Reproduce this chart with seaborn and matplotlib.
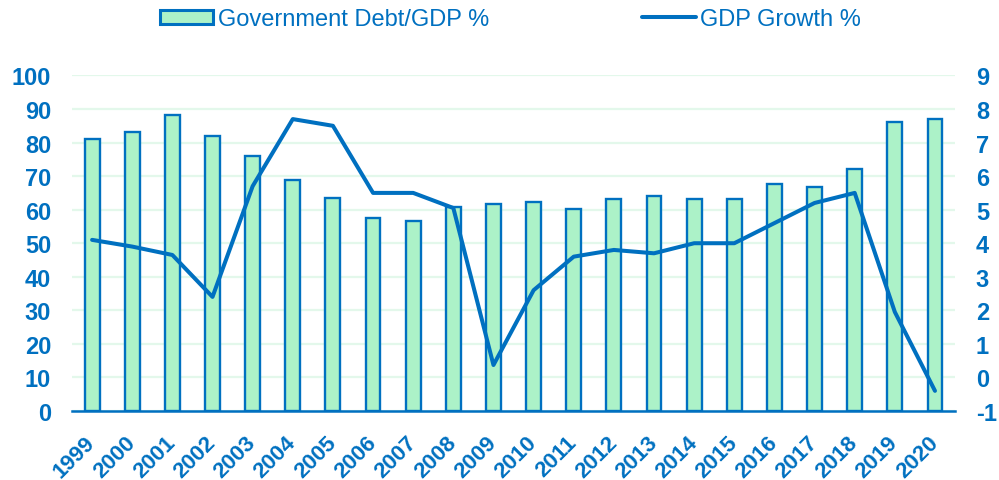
import numpy as np
import pandas as pd
import matplotlib
matplotlib.use("Agg")
import matplotlib.pyplot as plt
from matplotlib.patches import Patch
from matplotlib.lines import Line2D
import seaborn as sns

years = ["1999", "2000", "2001", "2002", "2003", "2004", "2005", "2006", "2007", "2008", "2009",
         "2010", "2011", "2012", "2013", "2014", "2015", "2016", "2017", "2018", "2019", "2020"]
debt_to_gdp = [81.2, 83.2, 88.1, 81.9, 75.9, 68.8, 63.4, 57.6, 56.5, 60.8, 61.6,
               62.4, 60.1, 63.3, 64.0, 63.3, 63.3, 67.6, 66.9, 72.1, 86.0, 87.0]
gdp_growth = [4.1, 3.9, 3.65, 2.4, 5.7, 7.7, 7.5, 5.5, 5.5, 5.05, 0.37,
              2.6, 3.6, 3.8, 3.7, 4.0, 4.0, 4.6, 5.2, 5.5, 1.95, -0.4]

left_ticks = [0, 10, 20, 30, 40, 50, 60, 70, 80, 90, 100]
right_ticks = [-1, 0, 1, 2, 3, 4, 5, 6, 7, 8, 9]

BLUE = "#0070c0"
MINT = "#acf2c8"
GRID = "#e3f8eb"
TICK_SIZE = 17
YEAR_SIZE = 16

sns.set_theme(style="white")
plt.rcParams["font.family"] = ["Liberation Sans", "DejaVu Sans"]
plt.rcParams["axes.unicode_minus"] = False

df = pd.DataFrame({"year": years, "debt": debt_to_gdp, "growth": gdp_growth})
df["pos"] = np.arange(len(df))

fig = plt.figure(figsize=(9.99, 4.81), dpi=100)
ax = fig.add_axes([0.0721, 0.1435, 0.8839, 0.6975])

sns.barplot(data=df, x="year", y="debt", ax=ax, color=MINT, width=0.37,
            edgecolor=BLUE, linewidth=1.7, saturation=1, zorder=2)
ax.set_xlim(-0.5, len(years) - 0.5)
ax.set_ylim(0, 100)
ax.set_yticks(left_ticks)
ax.yaxis.grid(True, color=GRID, linewidth=1.6, zorder=0)
ax.set_axisbelow(True)
ax.set_xlabel("")
ax.set_ylabel("")
for side in ["left", "right", "top"]:
    ax.spines[side].set_visible(False)
ax.spines["bottom"].set_color(BLUE)
ax.spines["bottom"].set_linewidth(1.8)
ax.tick_params(axis="both", length=0, labelcolor=BLUE)
ax.tick_params(axis="y", pad=15, labelsize=TICK_SIZE)
ax.tick_params(axis="x", pad=20, labelsize=YEAR_SIZE)
for lbl in ax.get_yticklabels():
    lbl.set_fontweight("bold")
for lbl in ax.get_xticklabels():
    lbl.set_fontweight("bold")
    lbl.set_rotation(45)
    lbl.set_ha("right")
    lbl.set_va("center")
    lbl.set_rotation_mode("anchor")

ax2 = ax.twinx()
sns.lineplot(data=df, x="pos", y="growth", ax=ax2, color=BLUE, linewidth=2.9)
ax2.set_xlim(-0.5, len(years) - 0.5)
ax2.set_ylim(-1, 9)
ax2.set_yticks(right_ticks)
ax2.set_ylabel("")
for side in ["left", "right", "top", "bottom"]:
    ax2.spines[side].set_visible(False)
ax2.tick_params(axis="y", length=0, labelcolor=BLUE, labelsize=TICK_SIZE, pad=15)
for lbl in ax2.get_yticklabels():
    lbl.set_fontweight("bold")

handles = [Patch(facecolor=MINT, edgecolor=BLUE, linewidth=2.2),
           Line2D([0], [0], color=BLUE, linewidth=2.9)]
labels = ["Government Debt/GDP %", "GDP Growth %"]
leg = fig.legend(handles, labels, loc="center", bbox_to_anchor=(0.511, 0.958),
                 ncol=2, frameon=False, fontsize=17, columnspacing=6.5,
                 handlelength=2.25, handleheight=0.55, handletextpad=0.2,
                 borderpad=0, borderaxespad=0)
for t in leg.get_texts():
    t.set_color(BLUE)

fig.savefig("out.png", dpi=100)
